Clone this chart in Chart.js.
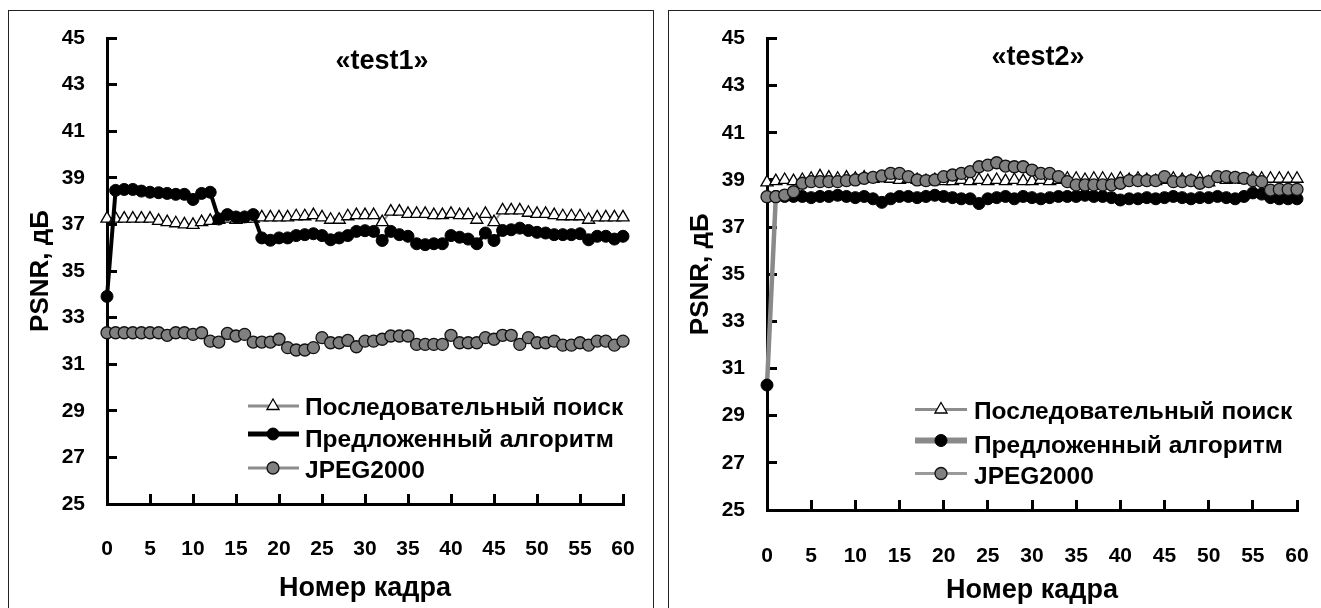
<!DOCTYPE html>
<html lang="ru">
<head>
<meta charset="UTF-8">
<title>PSNR test1 / test2</title>
<script src="https://cdn.jsdelivr.net/npm/chart.js@4.4.1/dist/chart.umd.min.js"></script>
<style>
	body { margin: 0; background: #fff; overflow: hidden; width: 1321px; height: 608px; position: relative; }
	.panel { position: absolute; top: 10px; height: 597px; border: 1px solid #222; border-bottom: none; overflow: hidden; }
	#p1 { left: 8px; width: 644px; }
	#p2 { left: 668px; width: 656px; }
	canvas { display: block; }
</style>
</head>
<body>
	<div class="panel" id="p1"><canvas id="chart1" width="644" height="597"></canvas></div>
	<div class="panel" id="p2"><canvas id="chart2" width="652" height="597"></canvas></div>
	<script>
	// frame numbers (x axis)
	const frames = [0, 1, 2, 3, 4, 5, 6, 7, 8, 9, 10, 11, 12, 13, 14, 15, 16, 17, 18, 19, 20,
		21, 22, 23, 24, 25, 26, 27, 28, 29, 30, 31, 32, 33, 34, 35, 36, 37, 38, 39, 40,
		41, 42, 43, 44, 45, 46, 47, 48, 49, 50, 51, 52, 53, 54, 55, 56, 57, 58, 59, 60];
	const xTicks = [0, 5, 10, 15, 20, 25, 30, 35, 40, 45, 50, 55, 60];
	const yTicks = [25, 27, 29, 31, 33, 35, 37, 39, 41, 43, 45];
	const seriesNames = ['Последовательный поиск', 'Предложенный алгоритм', 'JPEG2000'];
	const chartTitles = ['«test1»', '«test2»'];
	const xTitle = 'Номер кадра';
	const yTitle = 'PSNR, дБ';

	// «test1»
	const test1Seq = [37.25, 37.25, 37.25, 37.25, 37.25, 37.25, 37.15, 37.1, 37.05, 37.0,
		36.98, 37.1, 37.15, 37.2, 37.25, 37.2, 37.25, 37.25, 37.3, 37.3,
		37.3, 37.3, 37.35, 37.35, 37.4, 37.3, 37.2, 37.2, 37.35, 37.4,
		37.4, 37.4, 37.1, 37.55, 37.55, 37.45, 37.45, 37.45, 37.4, 37.4,
		37.45, 37.4, 37.4, 37.2, 37.45, 37.1, 37.6, 37.6, 37.6, 37.5,
		37.45, 37.45, 37.4, 37.35, 37.35, 37.35, 37.2, 37.3, 37.3, 37.3,
		37.3];
	const test1Prop = [33.91, 38.46, 38.5, 38.5, 38.43, 38.38, 38.36, 38.33, 38.29, 38.29,
		38.07, 38.33, 38.38, 37.23, 37.42, 37.32, 37.32, 37.42, 36.42, 36.32,
		36.42, 36.42, 36.52, 36.56, 36.6, 36.52, 36.34, 36.42, 36.52, 36.7,
		36.73, 36.7, 36.31, 36.7, 36.56, 36.49, 36.17, 36.13, 36.17, 36.17,
		36.52, 36.45, 36.37, 36.17, 36.63, 36.31, 36.74, 36.77, 36.84, 36.74,
		36.66, 36.63, 36.56, 36.56, 36.56, 36.6, 36.34, 36.49, 36.49, 36.37,
		36.49];
	const test1Jpeg = [32.35, 32.35, 32.35, 32.35, 32.35, 32.35, 32.35, 32.24, 32.35, 32.35,
		32.28, 32.35, 31.99, 31.95, 32.32, 32.21, 32.28, 31.95, 31.95, 31.95,
		32.07, 31.71, 31.61, 31.61, 31.71, 32.14, 31.92, 31.92, 32.02, 31.75,
		31.99, 31.99, 32.07, 32.21, 32.21, 32.21, 31.85, 31.85, 31.85, 31.85,
		32.24, 31.92, 31.92, 31.92, 32.14, 32.07, 32.24, 32.24, 31.85, 32.14,
		31.92, 31.92, 31.99, 31.82, 31.82, 31.92, 31.82, 31.99, 31.99, 31.82,
		31.99];

	// «test2»
	const test2Seq = [38.9, 38.95, 39.0, 38.95, 39.0, 39.05, 39.15, 39.1, 39.05, 39.1,
		39.05, 39.1, 39.05, 39.1, 39.05, 39.0, 39.05, 39.0, 38.95, 39.0,
		38.95, 38.95, 39.0, 38.95, 39.0, 38.95, 39.0, 38.95, 39.0, 38.95,
		38.95, 39.0, 38.95, 39.0, 39.05, 39.05, 39.0, 39.05, 39.05, 39.0,
		39.05, 39.0, 39.05, 39.0, 38.95, 39.0, 39.05, 39.0, 38.95, 39.05,
		38.9, 39.05, 39.0, 39.05, 39.0, 39.05, 39.05, 39.05, 39.05, 39.05,
		39.05];
	const test2Prop = [30.3, 38.3, 38.3, 38.3, 38.3, 38.25, 38.3, 38.3, 38.35, 38.3,
		38.25, 38.3, 38.2, 38.05, 38.2, 38.3, 38.3, 38.25, 38.3, 38.35,
		38.3, 38.25, 38.2, 38.2, 38.0, 38.2, 38.25, 38.3, 38.2, 38.3,
		38.25, 38.2, 38.25, 38.3, 38.3, 38.3, 38.35, 38.3, 38.3, 38.25,
		38.15, 38.2, 38.2, 38.25, 38.2, 38.25, 38.3, 38.25, 38.2, 38.25,
		38.25, 38.3, 38.25, 38.2, 38.3, 38.45, 38.4, 38.25, 38.2, 38.2,
		38.2];
	const test2Jpeg = [38.29, 38.29, 38.36, 38.5, 38.86, 38.93, 38.93, 38.93, 38.93, 38.97,
		39.0, 39.07, 39.11, 39.17, 39.28, 39.28, 39.14, 39.0, 38.97, 39.0,
		39.14, 39.21, 39.28, 39.35, 39.56, 39.63, 39.73, 39.59, 39.56, 39.56,
		39.42, 39.28, 39.28, 39.14, 38.93, 38.79, 38.79, 38.79, 38.79, 38.79,
		38.86, 38.97, 38.97, 38.97, 38.97, 39.14, 38.93, 38.93, 38.97, 38.86,
		38.93, 39.14, 39.14, 39.11, 39.07, 38.97, 38.93, 38.57, 38.6, 38.6,
		38.6];

	const FONT = '"Liberation Sans", Arial, Helvetica, sans-serif';
	Chart.defaults.font.family = FONT;
	Chart.defaults.color = '#000';

	// title and legend drawn inside the plot area
	const overlayPlugin = {
		id: 'overlay',
		afterDatasetsDraw(chart, args, opts) {
			const { ctx, chartArea } = chart;
			const L = chartArea.left, T = chartArea.top;
			ctx.save();
			ctx.fillStyle = '#000';
			ctx.font = 'bold 27px ' + FONT;
			ctx.textAlign = 'center';
			ctx.textBaseline = 'middle';
			ctx.fillText(opts.title, L + opts.titleX, T + opts.titleY);
			chart.data.datasets.forEach((ds, i) => {
				const y = T + opts.markY[i];
				ctx.strokeStyle = ds.borderColor;
				ctx.lineWidth = ds.legendLine;
				ctx.beginPath();
				ctx.moveTo(L + opts.lineX[0], y);
				ctx.lineTo(L + opts.lineX[1], y);
				ctx.stroke();
				ctx.fillStyle = ds.pointBackgroundColor;
				ctx.strokeStyle = ds.pointBorderColor;
				ctx.lineWidth = ds.pointBorderWidth;
				Chart.helpers.drawPoint(ctx, { pointStyle: ds.pointStyle, radius: ds.pointRadius, borderWidth: ds.pointBorderWidth, rotation: 0 }, L + opts.markX, y);
				ctx.fillStyle = '#000';
				ctx.font = 'bold 24.5px ' + FONT;
				ctx.textAlign = 'left';
				ctx.fillText(ds.label, L + opts.textX, T + opts.textY[i]);
			});
			ctx.restore();
		}
	};

	// drop the automatic label overflow padding, layout padding alone places the plot
	function noPad(s) {
		s.paddingTop = 0; s.paddingBottom = 0; s.paddingLeft = 0; s.paddingRight = 0;
	}

	function makeChart(id, series, styles, box) {
		const datasets = series.map((values, i) => Object.assign({
			label: seriesNames[i],
			data: values,
			clip: false,
			tension: 0
		}, styles[i]));
		return new Chart(document.getElementById(id), {
			type: 'line',
			data: { labels: frames, datasets: datasets },
			options: {
				responsive: false,
				animation: false,
				layout: { padding: { left: 0, top: box.top, right: box.right, bottom: 0 } },
				plugins: {
					legend: { display: false },
					tooltip: { enabled: false },
					overlay: box.overlay
				},
				scales: {
					x: {
						type: 'linear',
						min: 0,
						max: 60,
						afterBuildTicks: s => { s.ticks = xTicks.map(v => ({ value: v })); },
						afterFit: s => { s.height = box.xHeight; noPad(s); },
						grid: { drawOnChartArea: false, drawTicks: true, tickLength: -10, tickWidth: 3, tickColor: '#000' },
						border: { display: true, color: '#000', width: 3 },
						ticks: { padding: box.xPad, maxRotation: 0, autoSkip: false, font: { size: 21, weight: 'bold' } },
						title: { display: true, text: xTitle, font: { size: 27, weight: 'bold' }, padding: { top: 0, bottom: box.xTitlePad } }
					},
					y: {
						min: 25,
						max: 45,
						afterBuildTicks: s => { s.ticks = yTicks.map(v => ({ value: v })); },
						afterFit: s => { s.width = 98; noPad(s); },
						grid: { drawOnChartArea: false, drawTicks: true, tickLength: -10, tickWidth: 3, tickColor: '#000' },
						border: { display: true, color: '#000', width: 3 },
						ticks: { padding: 32, font: { size: 21, weight: 'bold' } },
						title: { display: true, text: yTitle, font: { size: 26, weight: 'bold' }, padding: { top: 16, bottom: 0 } }
					}
				}
			},
			plugins: [overlayPlugin]
		});
	}

	const triStyle = { pointStyle: 'triangle', pointRadius: 7, pointBackgroundColor: '#fff', pointBorderColor: '#000', pointBorderWidth: 1.3 };
	const greyDot = { pointStyle: 'circle', pointRadius: 6, pointBackgroundColor: '#808080', pointBorderColor: '#111', pointBorderWidth: 1.3 };
	const blackDot = { pointStyle: 'circle', pointRadius: 6, pointBackgroundColor: '#000', pointBorderColor: '#000', pointBorderWidth: 1 };

	makeChart('chart1', [test1Seq, test1Prop, test1Jpeg], [
		Object.assign({ borderColor: '#8c8c8c', borderWidth: 2, legendLine: 3, order: 2 }, triStyle),
		Object.assign({ borderColor: '#000', borderWidth: 4, legendLine: 5, order: 1 }, blackDot),
		Object.assign({ borderColor: '#8c8c8c', borderWidth: 2, legendLine: 3, order: 3 }, greyDot)
	], {
		top: 27, right: 30, xHeight: 104, xPad: 43, xTitlePad: 3,
		overlay: { title: chartTitles[0], titleX: 275, titleY: 24, lineX: [141, 192], markX: 166, textX: 198, markY: [368, 396, 430], textY: [370, 402, 433] }
	});

	makeChart('chart2', [test2Seq, test2Prop, test2Jpeg], [
		Object.assign({ borderColor: '#8c8c8c', borderWidth: 2, legendLine: 3, order: 2 }, triStyle),
		Object.assign({ borderColor: '#8a8a8a', borderWidth: 4.5, legendLine: 6, order: 3 }, blackDot),
		Object.assign({ borderColor: '#9a9a9a', borderWidth: 2.5, legendLine: 3, order: 1 }, greyDot)
	], {
		top: 27.5, right: 24, xHeight: 98, xPad: 44, xTitlePad: 1,
		overlay: { title: chartTitles[1], titleX: 271, titleY: 19, lineX: [148, 200], markX: 174, textX: 207, markY: [371, 402, 435], textY: [374, 408, 439] }
	});
	</script>
</body>
</html>
